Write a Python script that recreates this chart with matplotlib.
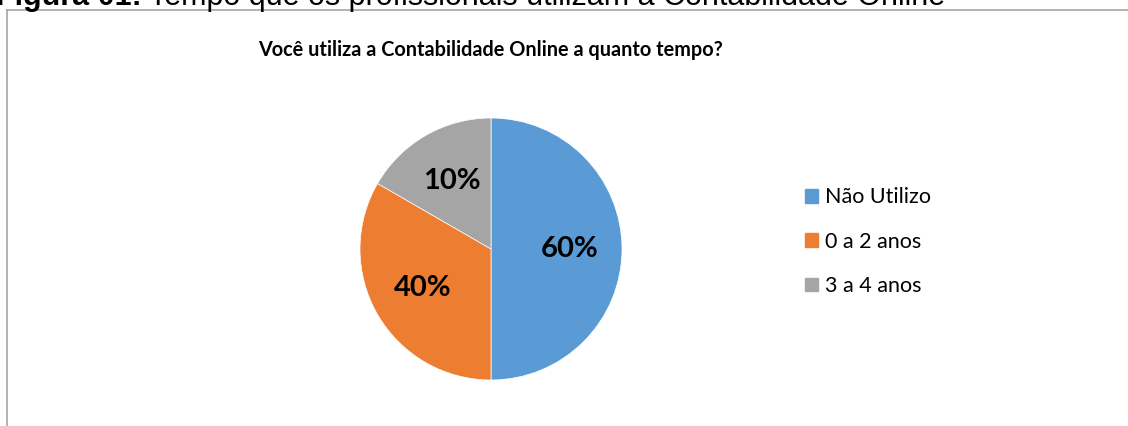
import matplotlib.pyplot as plt
from matplotlib.lines import Line2D
from matplotlib.patches import Patch

categorias = ['Não Utilizo', '0 a 2 anos', '3 a 4 anos']
valores = [3, 2, 1]  # proporção das fatias como aparece no gráfico
rotulos = ['60%', '40%', '10%']  # rótulos escritos no original
cores = ['#5B9BD5', '#ED7D31', '#A5A5A5']

W, H = 1128, 426
fig = plt.figure(figsize=(W / 100, H / 100), dpi=100)

# borda do quadro do gráfico (esquerda e topo)
fig.add_artist(Line2D([7 / W, 7 / W], [0, 1 - 10 / H], color='#A6A6A6', lw=1.2))
fig.add_artist(Line2D([7 / W, 1], [1 - 10 / H, 1 - 10 / H], color='#A6A6A6', lw=1.2))

# legenda da figura (cortada no topo)
renderer = fig.canvas.get_renderer()
t1 = fig.text(-4 / W, 1 - 5 / H, 'Figura 01:', fontsize=22, fontweight='bold',
              family='Liberation Sans', va='baseline')
bb = t1.get_window_extent(renderer)
fig.text(bb.x1 / W + 7 / W, 1 - 5 / H,
         'Tempo que os profissionais utilizam a Contabilidade Online',
         fontsize=22, family='Liberation Sans', va='baseline')

fig.text(490 / W, 1 - 50 / H, 'Você utiliza a Contabilidade Online a quanto tempo?',
         ha='center', va='center', fontsize=14.3, fontweight='bold', family='Lato')

cx, cy, r = 491, 249, 131
ax = fig.add_axes([(cx - r) / W, (H - cy - r) / H, 2 * r / W, 2 * r / H])
it = iter(rotulos)
wedges, textos, autotextos = ax.pie(valores, colors=cores, startangle=90,
                                    counterclock=False, autopct=lambda p: next(it),
                                    pctdistance=0.6,
                                    wedgeprops=dict(linewidth=0.5, edgecolor='white'),
                                    textprops=dict(fontsize=21, fontweight='bold',
                                                   family='Lato', color='black'))
ax.set_xlim(-1, 1)
ax.set_ylim(-1, 1)
ax.set_aspect('equal')

handles = [Patch(color=c, label=l) for c, l in zip(cores, categorias)]
fig.legend(handles=handles, loc='upper left', bbox_to_anchor=(786 / W, 1 - 168 / H),
           frameon=False, prop=dict(family='Lato', size=15.5), handlelength=0.6,
           handleheight=0.6, handletextpad=0.3, labelspacing=1.13)

fig.savefig('out.png', dpi=100)
